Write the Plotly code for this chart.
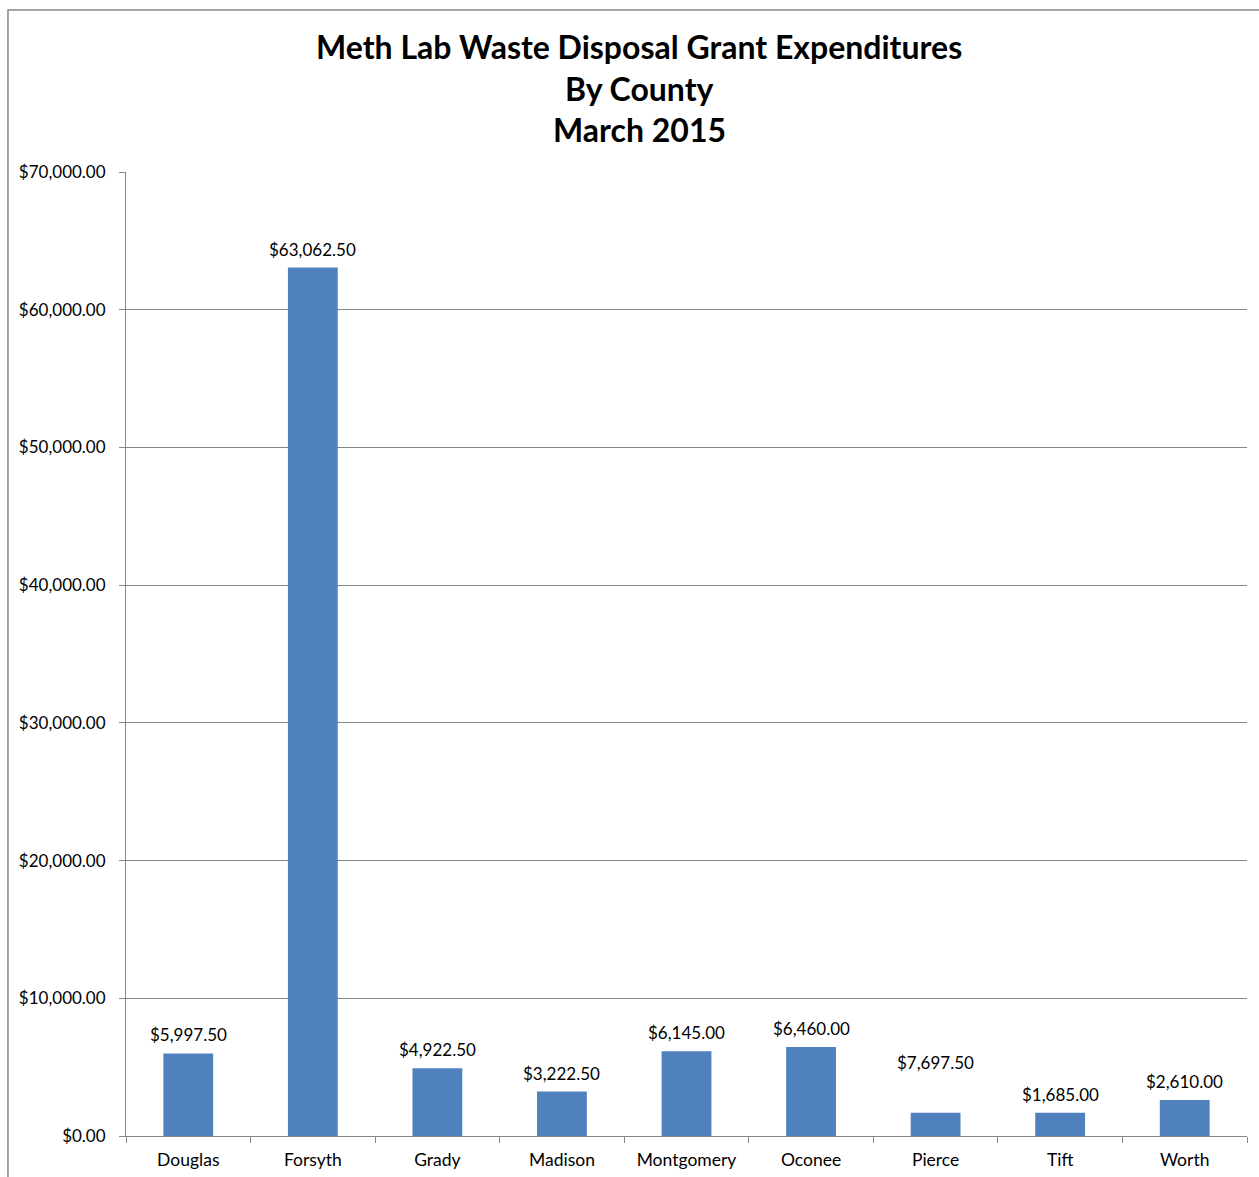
import plotly.graph_objects as go

counties = ["Douglas", "Forsyth", "Grady", "Madison", "Montgomery", "Oconee", "Pierce", "Tift", "Worth"]
bar_values = [5997.50, 63062.50, 4922.50, 3222.50, 6145.00, 6460.00, 1685.00, 1685.00, 2610.00]
label_texts = ["$5,997.50", "$63,062.50", "$4,922.50", "$3,222.50", "$6,145.00", "$6,460.00", "$7,697.50", "$1,685.00", "$2,610.00"]
label_shift = [6, 6, 6, 6, 6, 6, 38, 6, 6]

title_lines = ["Meth Lab Waste Disposal Grant Expenditures", "By County", "March 2015"]
title_ypos = [1.1297, 1.0871, 1.0446]

FONT = "Lato, 'Open Sans', sans-serif"

fig = go.Figure()
fig.add_trace(go.Bar(x=counties, y=bar_values, marker=dict(color="#4F81BD", line=dict(width=0)),
                     hoverinfo="x+y"))

for c, v, t, s in zip(counties, bar_values, label_texts, label_shift):
    fig.add_annotation(x=c, y=v, text=t, showarrow=False, yanchor="bottom", yshift=s,
                       font=dict(family=FONT, size=17, color="#000"))

for line, yp in zip(title_lines, title_ypos):
    fig.add_annotation(xref="paper", yref="paper", x=0.4577, y=yp, xanchor="center", yanchor="middle",
                       text="<b>%s</b>" % line, showarrow=False,
                       font=dict(family=FONT, size=32, color="#000"))

fig.update_layout(
    width=1259, height=1177,
    margin=dict(l=126, r=12, t=172, b=41),
    paper_bgcolor="white", plot_bgcolor="white",
    showlegend=False,
    bargap=0.6,
    font=dict(family=FONT, size=17, color="#000"),
    xaxis=dict(type="category", showline=True, linecolor="#868686", linewidth=1,
               ticks="outside", tickson="boundaries", ticklen=6, tickcolor="#868686",
               ticklabelstandoff=8, automargin=False,
               showgrid=False, tickfont=dict(size=17.5, color="#000")),
    yaxis=dict(range=[0, 70000], dtick=10000, tickformat="$,.2f", showline=True,
               linecolor="#868686", linewidth=1, ticks="outside", ticklen=6, tickcolor="#868686",
               ticklabelstandoff=10, automargin=False,
               showgrid=True, gridcolor="#868686", gridwidth=1, zeroline=False,
               tickfont=dict(size=17, color="#000")),
    shapes=[dict(type="rect", xref="paper", yref="paper", x0=-0.1053, x1=1.2, y0=-0.06, y1=1.168,
                 line=dict(color="#888888", width=1.5), fillcolor="rgba(0,0,0,0)", layer="below")],
)

fig.write_html("out.html")
